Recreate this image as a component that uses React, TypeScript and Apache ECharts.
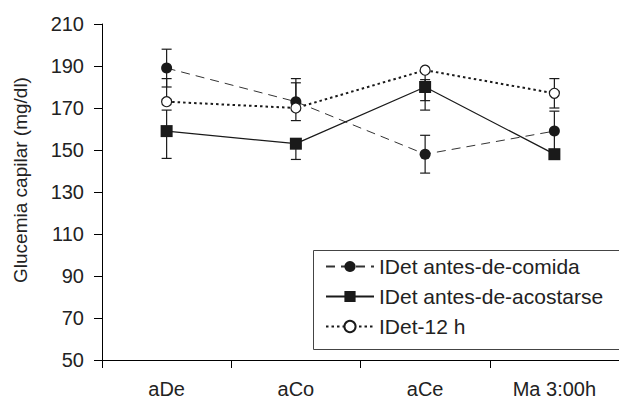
import React, { useEffect, useRef } from "react";
import * as echarts from "echarts";

const categories = ["aDe", "aCo", "aCe", "Ma 3:00h"];
const yTicks = [50, 70, 90, 110, 130, 150, 170, 190, 210];

const seriesNames = ["IDet antes-de-comida", "IDet antes-de-acostarse", "IDet-12 h"];

const comida = [189, 173, 148, 159];
const comidaHigh = [198, 184, 157, 168.5];
const comidaLow = [180, 164, 139, 150];

const acostarse = [159, 153, 180, 148];
const acostarseHigh = [169, 153, 183.5, 148];
const acostarseLow = [146, 145.5, 173.5, 148];

const h12 = [173, 170, 188, 177];
const h12High = [184, 182, 188, 184];
const h12Low = [173, 170, 169, 170];

const INK = "#1a1a1a";

function errData(vals: number[], hi: number[], lo: number[]) {
  return vals.map((v, i) => [i, lo[i], hi[i], v]);
}

function errSeries(vals: number[], hi: number[], lo: number[]) {
  return {
    type: "custom",
    silent: true,
    z: 1,
    encode: { x: 0, y: [1, 2] },
    data: errData(vals, hi, lo),
    renderItem: (params: any, api: any) => {
      const x = api.value(0);
      const lo_ = api.value(1);
      const hi_ = api.value(2);
      const c = api.value(3);
      const children: any[] = [];
      const pHi = api.coord([x, hi_]);
      const pLo = api.coord([x, lo_]);
      const pC = api.coord([x, c]);
      const hw = 5;
      const style = { stroke: INK, lineWidth: 1.2 };
      if (hi_ > c) {
        children.push({ type: "line", shape: { x1: pC[0], y1: pC[1], x2: pHi[0], y2: pHi[1] }, style });
        children.push({ type: "line", shape: { x1: pHi[0] - hw, y1: pHi[1], x2: pHi[0] + hw, y2: pHi[1] }, style });
      }
      if (lo_ < c) {
        children.push({ type: "line", shape: { x1: pC[0], y1: pC[1], x2: pLo[0], y2: pLo[1] }, style });
        children.push({ type: "line", shape: { x1: pLo[0] - hw, y1: pLo[1], x2: pLo[0] + hw, y2: pLo[1] }, style });
      }
      return { type: "group", children };
    },
  };
}

export default function App() {
  const ref = useRef<HTMLDivElement>(null);
  useEffect(() => {
    if (!ref.current) return;
    const chart = echarts.init(ref.current, undefined, { renderer: "svg" });
    chart.setOption({
      animation: false,
      backgroundColor: "#ffffff",
      textStyle: { fontFamily: "Liberation Sans, Arial, sans-serif" },
      grid: { left: 102, top: 24, bottom: 36, width: 520 },
      xAxis: {
        type: "category",
        data: categories,
        boundaryGap: true,
        axisLine: { lineStyle: { color: "#000", width: 1 } },
        axisTick: { show: true, length: 8, lineStyle: { color: "#000" } },
        axisLabel: { color: "#222", fontSize: 20, margin: 19 },
      },
      yAxis: {
        type: "value",
        min: 50,
        max: 210,
        axisLine: { show: true, lineStyle: { color: "#000", width: 1 } },
        axisTick: { show: true, length: 8, customValues: yTicks, lineStyle: { color: "#000" } },
        axisLabel: { color: "#222", fontSize: 20, margin: 18, customValues: yTicks },
        splitLine: { show: false },
      },
      legend: {
        orient: "vertical",
        left: 313,
        top: 250,
        data: seriesNames,
        itemWidth: 48,
        itemHeight: 14,
        itemGap: 9,
        padding: [6, 10, 13, 12],
        textStyle: { fontSize: 21, color: "#222" },
      },
      graphic: [
        {
          type: "rect",
          z: 0,
          silent: true,
          shape: { x: 313.5, y: 250.5, width: 330, height: 99 },
          style: { fill: "none", stroke: "#444", lineWidth: 1 },
        },
        {
          type: "text",
          x: 20,
          y: 180,
          rotation: Math.PI / 2,
          style: {
            text: "Glucemia capilar (mg/dl)",
            fontSize: 19,
            fill: "#222",
            fontFamily: "Liberation Sans, Arial, sans-serif",
            textAlign: "center",
            textVerticalAlign: "middle",
          },
        },
      ],
      series: [
        errSeries(comida, comidaHigh, comidaLow),
        errSeries(acostarse, acostarseHigh, acostarseLow),
        errSeries(h12, h12High, h12Low),
        {
          name: seriesNames[0],
          type: "line",
          data: comida,
          symbol: "circle",
          symbolSize: 11,
          itemStyle: { color: INK, borderWidth: 0 },
          lineStyle: { color: "#333", width: 1, type: [9, 6] },
          z: 3,
        },
        {
          name: seriesNames[1],
          type: "line",
          data: acostarse,
          symbol: "rect",
          symbolSize: 12,
          itemStyle: { color: INK, borderWidth: 0 },
          lineStyle: { color: INK, width: 1.3, type: "solid" },
          z: 4,
        },
        {
          name: seriesNames[2],
          type: "line",
          data: h12,
          symbol: "circle",
          symbolSize: 10,
          itemStyle: { color: "#ffffff", borderColor: INK, borderWidth: 1.2 },
          lineStyle: { color: INK, width: 2, type: [2.5, 3] },
          z: 5,
        },
      ],
    });
    return () => chart.dispose();
  }, []);
  return <div ref={ref} style={{ width: 619, height: 399, position: "absolute", left: 0, top: 0 }} />;
}
